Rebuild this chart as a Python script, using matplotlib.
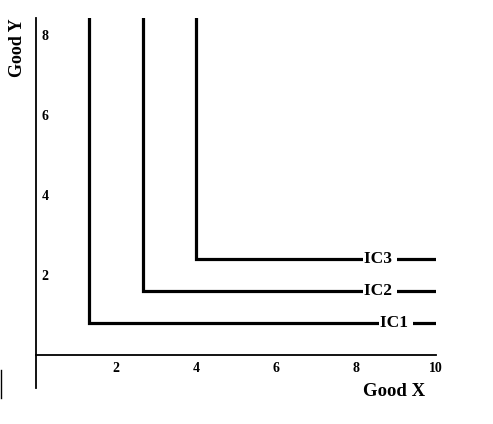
import matplotlib
matplotlib.use("Agg")
import matplotlib.pyplot as plt
from matplotlib.lines import Line2D

# ______________________________________________________
# _____________________ DATA ___________________________

curves = ["IC1", "IC2", "IC3"]
corner_x = [1.33, 2.67, 4.0]      # x where the curve turns
corner_y = [0.8, 1.6, 2.4]        # y of the horizontal part
label_x = [9.0, 8.6, 8.6]         # where the name sits on the line
x_ticks = [2, 4, 6, 8, 10]
y_ticks = [2, 4, 6, 8]
y_top = 8.42

# ______________________________________________________
# ____________________ PLOTTING ________________________

fig = plt.figure(figsize=(4.93, 4.24), dpi=100)
ax = fig.add_axes([36/493, 1-388/424, 400/493, 370/424])

for name, cx, cy, lx in zip(curves, corner_x, corner_y, label_x):
    ax.plot([cx, cx, 10], [y_top, cy, cy], color="black", lw=2.3,
            solid_joinstyle="miter")
    ax.text(lx, cy, name + " ", ha="center", va="center",
            fontfamily="Liberation Serif", fontweight="bold", fontsize=12.5,
            bbox=dict(facecolor="white", edgecolor="none", pad=0.5))

ax.set_xlim(0, 10)
ax.set_ylim(-0.825, y_top)
ax.spines["bottom"].set_position(("data", 0))
ax.spines["top"].set_visible(False)
ax.spines["right"].set_visible(False)
for s in ["left", "bottom"]:
    ax.spines[s].set_linewidth(1.3)

ax.set_xticks(x_ticks)
ax.set_yticks(y_ticks)
ax.tick_params(axis="x", length=0, pad=5, labelsize=10)
ax.tick_params(axis="y", length=0, pad=-4, labelsize=10)
for t in ax.get_yticklabels():
    t.set_horizontalalignment("left")
for t in ax.get_xticklabels() + ax.get_yticklabels():
    t.set_fontfamily("Liberation Serif")
    t.set_fontweight("bold")

fig.text(394/493, 1-391/424, "Good X", ha="center", va="center",
         fontfamily="Liberation Serif", fontweight="bold", fontsize=13.5)
fig.text(18/493, 1-48/424, "Good Y", ha="center", va="center", rotation=90,
         fontfamily="Liberation Serif", fontweight="bold", fontsize=13)

# stray mark at the left edge
fig.add_artist(Line2D([0.5/493, 0.5/493], [1-370/424, 1-398/424],
                      color="black", lw=1))

fig.savefig("out.png", dpi=100)
